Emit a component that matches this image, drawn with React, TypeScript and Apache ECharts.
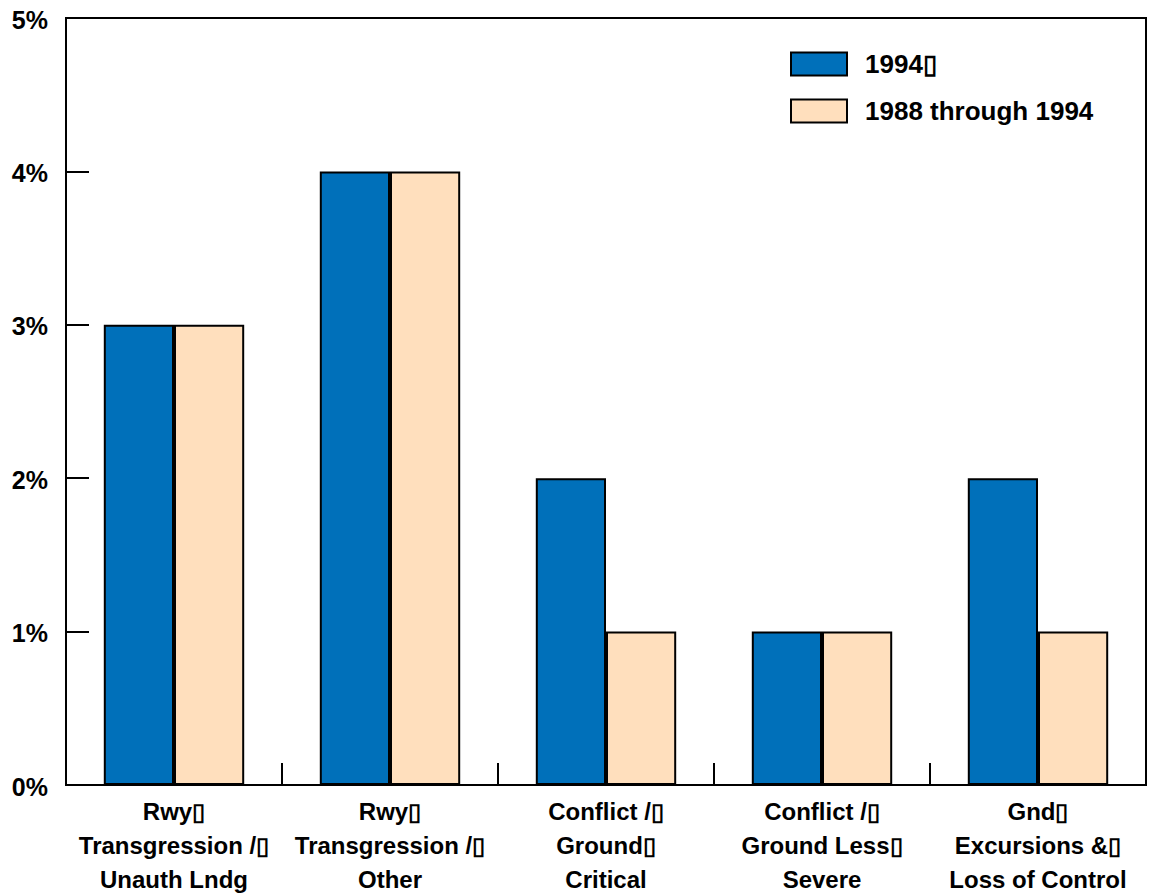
import React, { useEffect, useRef } from "react";
import * as echarts from "echarts";

const categories = [
  "Rwy\u25AF\nTransgression /\u25AF\nUnauth Lndg",
  "Rwy\u25AF\nTransgression /\u25AF\nOther",
  "Conflict /\u25AF\nGround\u25AF\nCritical",
  "Conflict /\u25AF\nGround Less\u25AF\nSevere",
  "Gnd\u25AF\nExcursions &\u25AF\nLoss of Control",
];
const seriesNames = ["1994\u25AF", "1988 through 1994"];
const values1994 = [3, 4, 2, 1, 2];
const values1988to1994 = [3, 4, 1, 1, 1];
const yTicks = [0, 1, 2, 3, 4, 5];

const FONT = "'Liberation Sans', Arial, Helvetica, sans-serif";

export default function App() {
  const ref = useRef<HTMLDivElement>(null);

  useEffect(() => {
    if (!ref.current) return;
    const chart = echarts.init(ref.current, null, { renderer: "svg" });
    chart.setOption({
      animation: false,
      backgroundColor: "#ffffff",
      textStyle: { fontFamily: FONT },
      grid: {
        left: 66,
        right: 5,
        top: 18,
        bottom: 111,
        outerBoundsMode: "none",
        containLabel: false,
        show: true,
        borderColor: "#000",
        borderWidth: 2,
        backgroundColor: "transparent",
      },
      legend: {
        orient: "vertical",
        left: 790,
        top: 51,
        padding: 0,
        icon: "rect",
        itemWidth: 56,
        itemHeight: 23,
        itemGap: 21,
        data: seriesNames,
        textStyle: {
          fontFamily: FONT,
          fontSize: 26,
          fontWeight: "bold",
          color: "#000",
          padding: [0, 0, 0, 13],
        },
      },
      xAxis: {
        type: "category",
        data: categories,
        axisLine: { lineStyle: { color: "#000", width: 2 } },
        axisTick: {
          show: true,
          inside: true,
          length: 22,
          lineStyle: { color: "#000", width: 2 },
        },
        axisLabel: {
          interval: 0,
          margin: 9,
          fontFamily: FONT,
          fontSize: 24,
          fontWeight: "bold",
          color: "#000",
          lineHeight: 34,
          align: "center",
        },
        splitLine: { show: false },
      },
      yAxis: {
        type: "value",
        min: yTicks[0],
        max: yTicks[yTicks.length - 1],
        interval: 1,
        axisLine: { show: true, lineStyle: { color: "#000", width: 2 } },
        axisTick: {
          show: true,
          inside: true,
          length: 23,
          lineStyle: { color: "#000", width: 2 },
        },
        axisLabel: {
          margin: 18,
          fontFamily: FONT,
          fontSize: 25,
          fontWeight: "bold",
          color: "#000",
          formatter: (v: number) => `${v}%`,
          verticalAlign: "top",
          padding: [-11, 0, 0, 0],
        },
        splitLine: { show: false },
      },
      series: [
        {
          name: seriesNames[0],
          type: "bar",
          data: values1994,
          barGap: "0%",
          barCategoryGap: "35%",
          itemStyle: { color: "#0070BA", borderColor: "#000", borderWidth: 2 },
        },
        {
          name: seriesNames[1],
          type: "bar",
          data: values1988to1994,
          itemStyle: { color: "#FFDFBD", borderColor: "#000", borderWidth: 2 },
        },
      ],
    });
    return () => chart.dispose();
  }, []);

  return (
    <div
      ref={ref}
      style={{ position: "fixed", left: 0, top: 0, width: 1151, height: 896 }}
    />
  );
}
